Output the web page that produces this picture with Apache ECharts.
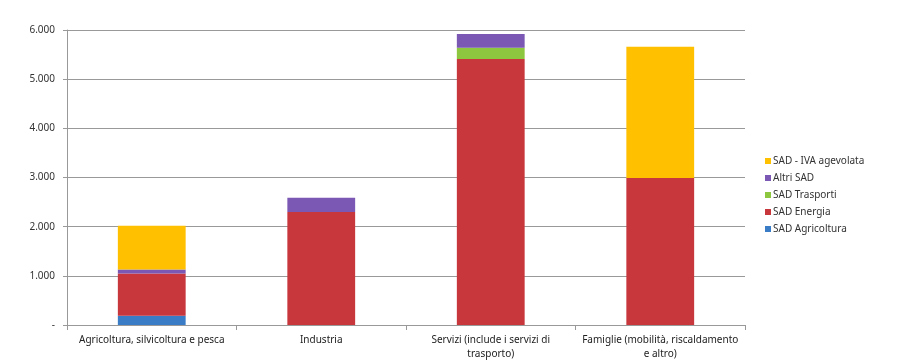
<!DOCTYPE html>
<html><head><meta charset="utf-8">
<script src="https://cdn.jsdelivr.net/npm/echarts@6/dist/echarts.min.js"></script>
<style>html,body{margin:0;padding:0;background:#fff}#c{width:906px;height:361px}</style>
</head><body><div id="c"></div>
<script>
const categories = ["Agricoltura, silvicoltura e pesca", "Industria", "Servizi (include i servizi di\ntrasporto)", "Famiglie (mobilità, riscaldamento\ne altro)"];
const sadAgricoltura = [190, 0, 0, 0];
const sadEnergia = [860, 2300, 5410, 2990];
const sadTrasporti = [0, 0, 230, 0];
const altriSad = [80, 290, 280, 0];
const ivaAgevolata = [890, 0, 0, 2670];
const yTicks = [0, 1000, 2000, 3000, 4000, 5000, 6000];

const seriesDefs = [
  {name: "SAD Agricoltura", data: sadAgricoltura, color: "#3a7cc6"},
  {name: "SAD Energia", data: sadEnergia, color: "#c8373c"},
  {name: "SAD Trasporti", data: sadTrasporti, color: "#8dc63f"},
  {name: "Altri SAD", data: altriSad, color: "#7b58b3"},
  {name: "SAD - IVA agevolata", data: ivaAgevolata, color: "#ffc000"}
];
const font = "'Liberation Sans Narrow','Noto Sans', sans-serif";
const chart = echarts.init(document.getElementById('c'), null, {renderer: 'canvas'});
chart.setOption({
  animation: false,
  textStyle: {fontFamily: font},
  grid: {left: 67, right: 161, top: 30, bottom: 34},
  legend: {
    orient: 'vertical', left: 760, top: 151,
    data: ["SAD - IVA agevolata", "Altri SAD", "SAD Trasporti", "SAD Energia", "SAD Agricoltura"],
    itemWidth: 6, itemHeight: 6, itemGap: 7, icon: 'rect',
    textStyle: {fontSize: 10, color: '#333', fontFamily: font, padding: [0,0,0,-3]}
  },
  xAxis: {
    type: 'category', data: categories,
    axisLine: {lineStyle: {color: '#999'}},
    axisTick: {show: true, length: 5, lineStyle: {color: '#999'}},
    axisLabel: {color: '#222', fontSize: 10, lineHeight: 14, margin: 8, interval: 0, fontFamily: font}
  },
  yAxis: {
    type: 'value', min: yTicks[0], max: yTicks[yTicks.length-1], interval: 1000,
    axisLine: {show: true, lineStyle: {color: '#999'}},
    axisTick: {show: true, length: 4, inside: false, lineStyle: {color: '#999'}},
    splitLine: {lineStyle: {color: '#999'}},
    axisLabel: {color: '#333', fontSize: 10, margin: 12, fontFamily: font,
      formatter: v => v === 0 ? '-' : v.toLocaleString('it-IT').replace(/\u00a0|,/g, '.')}
  },
  series: seriesDefs.map(s => ({
    name: s.name, type: 'bar', stack: 'tot', data: s.data, barWidth: '40%',
    itemStyle: {color: s.color}
  }))
});
</script></body></html>
